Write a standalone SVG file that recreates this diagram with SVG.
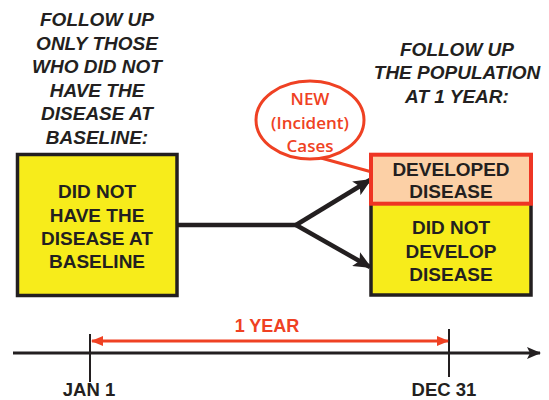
<svg xmlns="http://www.w3.org/2000/svg" width="549" height="400" viewBox="0 0 549 400">
<defs>
<style>
.h{font-family:"Liberation Sans",Arial,sans-serif;font-weight:bold;font-style:italic;font-size:19px;fill:#231F20;text-anchor:middle}
.b{font-family:"Liberation Sans",Arial,sans-serif;font-weight:bold;font-size:19px;fill:#231F20;text-anchor:middle}
.o{font-family:"Liberation Sans",Arial,sans-serif;font-weight:bold;font-size:18px;fill:#EF4123;text-anchor:middle}
.c{font-family:"Comic Sans MS","Open Sans","DejaVu Sans",sans-serif;font-weight:600;font-size:17px;fill:#EF4123;text-anchor:middle}
.blk{stroke:#231F20;fill:none}
</style>
<marker id="ah" markerUnits="userSpaceOnUse" markerWidth="18" markerHeight="16" refX="16" refY="8" orient="auto">
<path d="M0,0 L18,8 L0,16 L4,8 Z" fill="#231F20"/>
</marker>
<marker id="tl" markerUnits="userSpaceOnUse" markerWidth="14" markerHeight="12" refX="13" refY="6" orient="auto">
<path d="M0,0 L14,6 L0,12 L3,6 Z" fill="#231F20"/>
</marker>
<marker id="oa" markerUnits="userSpaceOnUse" markerWidth="12" markerHeight="10" refX="11" refY="5" orient="auto-start-reverse">
<path d="M0,0 L12,5 L0,10 Z" fill="#EF4123"/>
</marker>
<marker id="ob" markerUnits="userSpaceOnUse" markerWidth="16" markerHeight="14" refX="15" refY="7" orient="auto">
<path d="M0,0 L16,7 L0,14 L3,7 Z" fill="#EF4123"/>
</marker>
</defs>
<rect width="549" height="400" fill="#FFFFFF"/>

<g id="header-left">
<text class="h" x="97" y="26">FOLLOW UP</text>
<text class="h" x="97" y="50">ONLY THOSE</text>
<text class="h" x="97" y="73">WHO DID NOT</text>
<text class="h" x="97" y="97">HAVE THE</text>
<text class="h" x="97" y="120">DISEASE AT</text>
<text class="h" x="97" y="144">BASELINE:</text>
</g>

<g id="header-right">
<text class="h" x="457" y="56">FOLLOW UP</text>
<text class="h" x="457" y="79">THE POPULATION</text>
<text class="h" x="457" y="103">AT 1 YEAR:</text>
</g>

<g id="connectors">
<path class="blk" d="M178,225 L296,225" stroke-width="4.5"/>
<path class="blk" d="M296,225 L370,180" stroke-width="4.5" marker-end="url(#ah)"/>
<path class="blk" d="M296,225 L370,267" stroke-width="4.5" marker-end="url(#ah)"/>
<path d="M321,158 L390,177" stroke="#EF4123" stroke-width="3" fill="none" marker-end="url(#ob)"/>
<path class="blk" d="M13,353 L540,353" stroke-width="3.2" marker-end="url(#tl)"/>
<path class="blk" d="M90,334 L90,382" stroke-width="2"/>
<path class="blk" d="M449,329 L449,377" stroke-width="2"/>
<path d="M92,341 L448,341" stroke="#EF4123" stroke-width="3" fill="none" marker-start="url(#oa)" marker-end="url(#oa)"/>
</g>

<g id="baseline-box">
<rect x="17.5" y="154.5" width="159.5" height="141" fill="#F7EC1B" stroke="#231F20" stroke-width="3.5"/>
<text class="b" x="97" y="198">DID NOT</text>
<text class="b" x="97" y="222">HAVE THE</text>
<text class="b" x="97" y="245">DISEASE AT</text>
<text class="b" x="97" y="268">BASELINE</text>
</g>

<g id="not-developed-box">
<rect x="371" y="155" width="160" height="140" fill="#F7EC1B" stroke="#231F20" stroke-width="3.5"/>
<text class="b" x="451" y="234">DID NOT</text>
<text class="b" x="451" y="258">DEVELOP</text>
<text class="b" x="451" y="281">DISEASE</text>
</g>

<g id="developed-box">
<rect x="371" y="154.7" width="160" height="49" fill="#FCD0A6" stroke="#EE3524" stroke-width="4"/>
<text class="b" x="451" y="176">DEVELOPED</text>
<text class="b" x="451" y="198">DISEASE</text>
</g>

<g id="new-cases">
<ellipse cx="310" cy="120" rx="54" ry="39" fill="#FFFFFF" stroke="#EF4123" stroke-width="3"/>
<text class="c" x="310" y="105">NEW</text>
<text class="c" x="310" y="129">(Incident)</text>
<text class="c" x="310" y="152">Cases</text>
</g>

<g id="timeline-labels">
<text class="o" x="267" y="332">1 YEAR</text>
<text class="b" x="89" y="396" style="font-size:18.5px">JAN 1</text>
<text class="b" x="444" y="396" style="font-size:18.5px">DEC 31</text>
</g>
</svg>
